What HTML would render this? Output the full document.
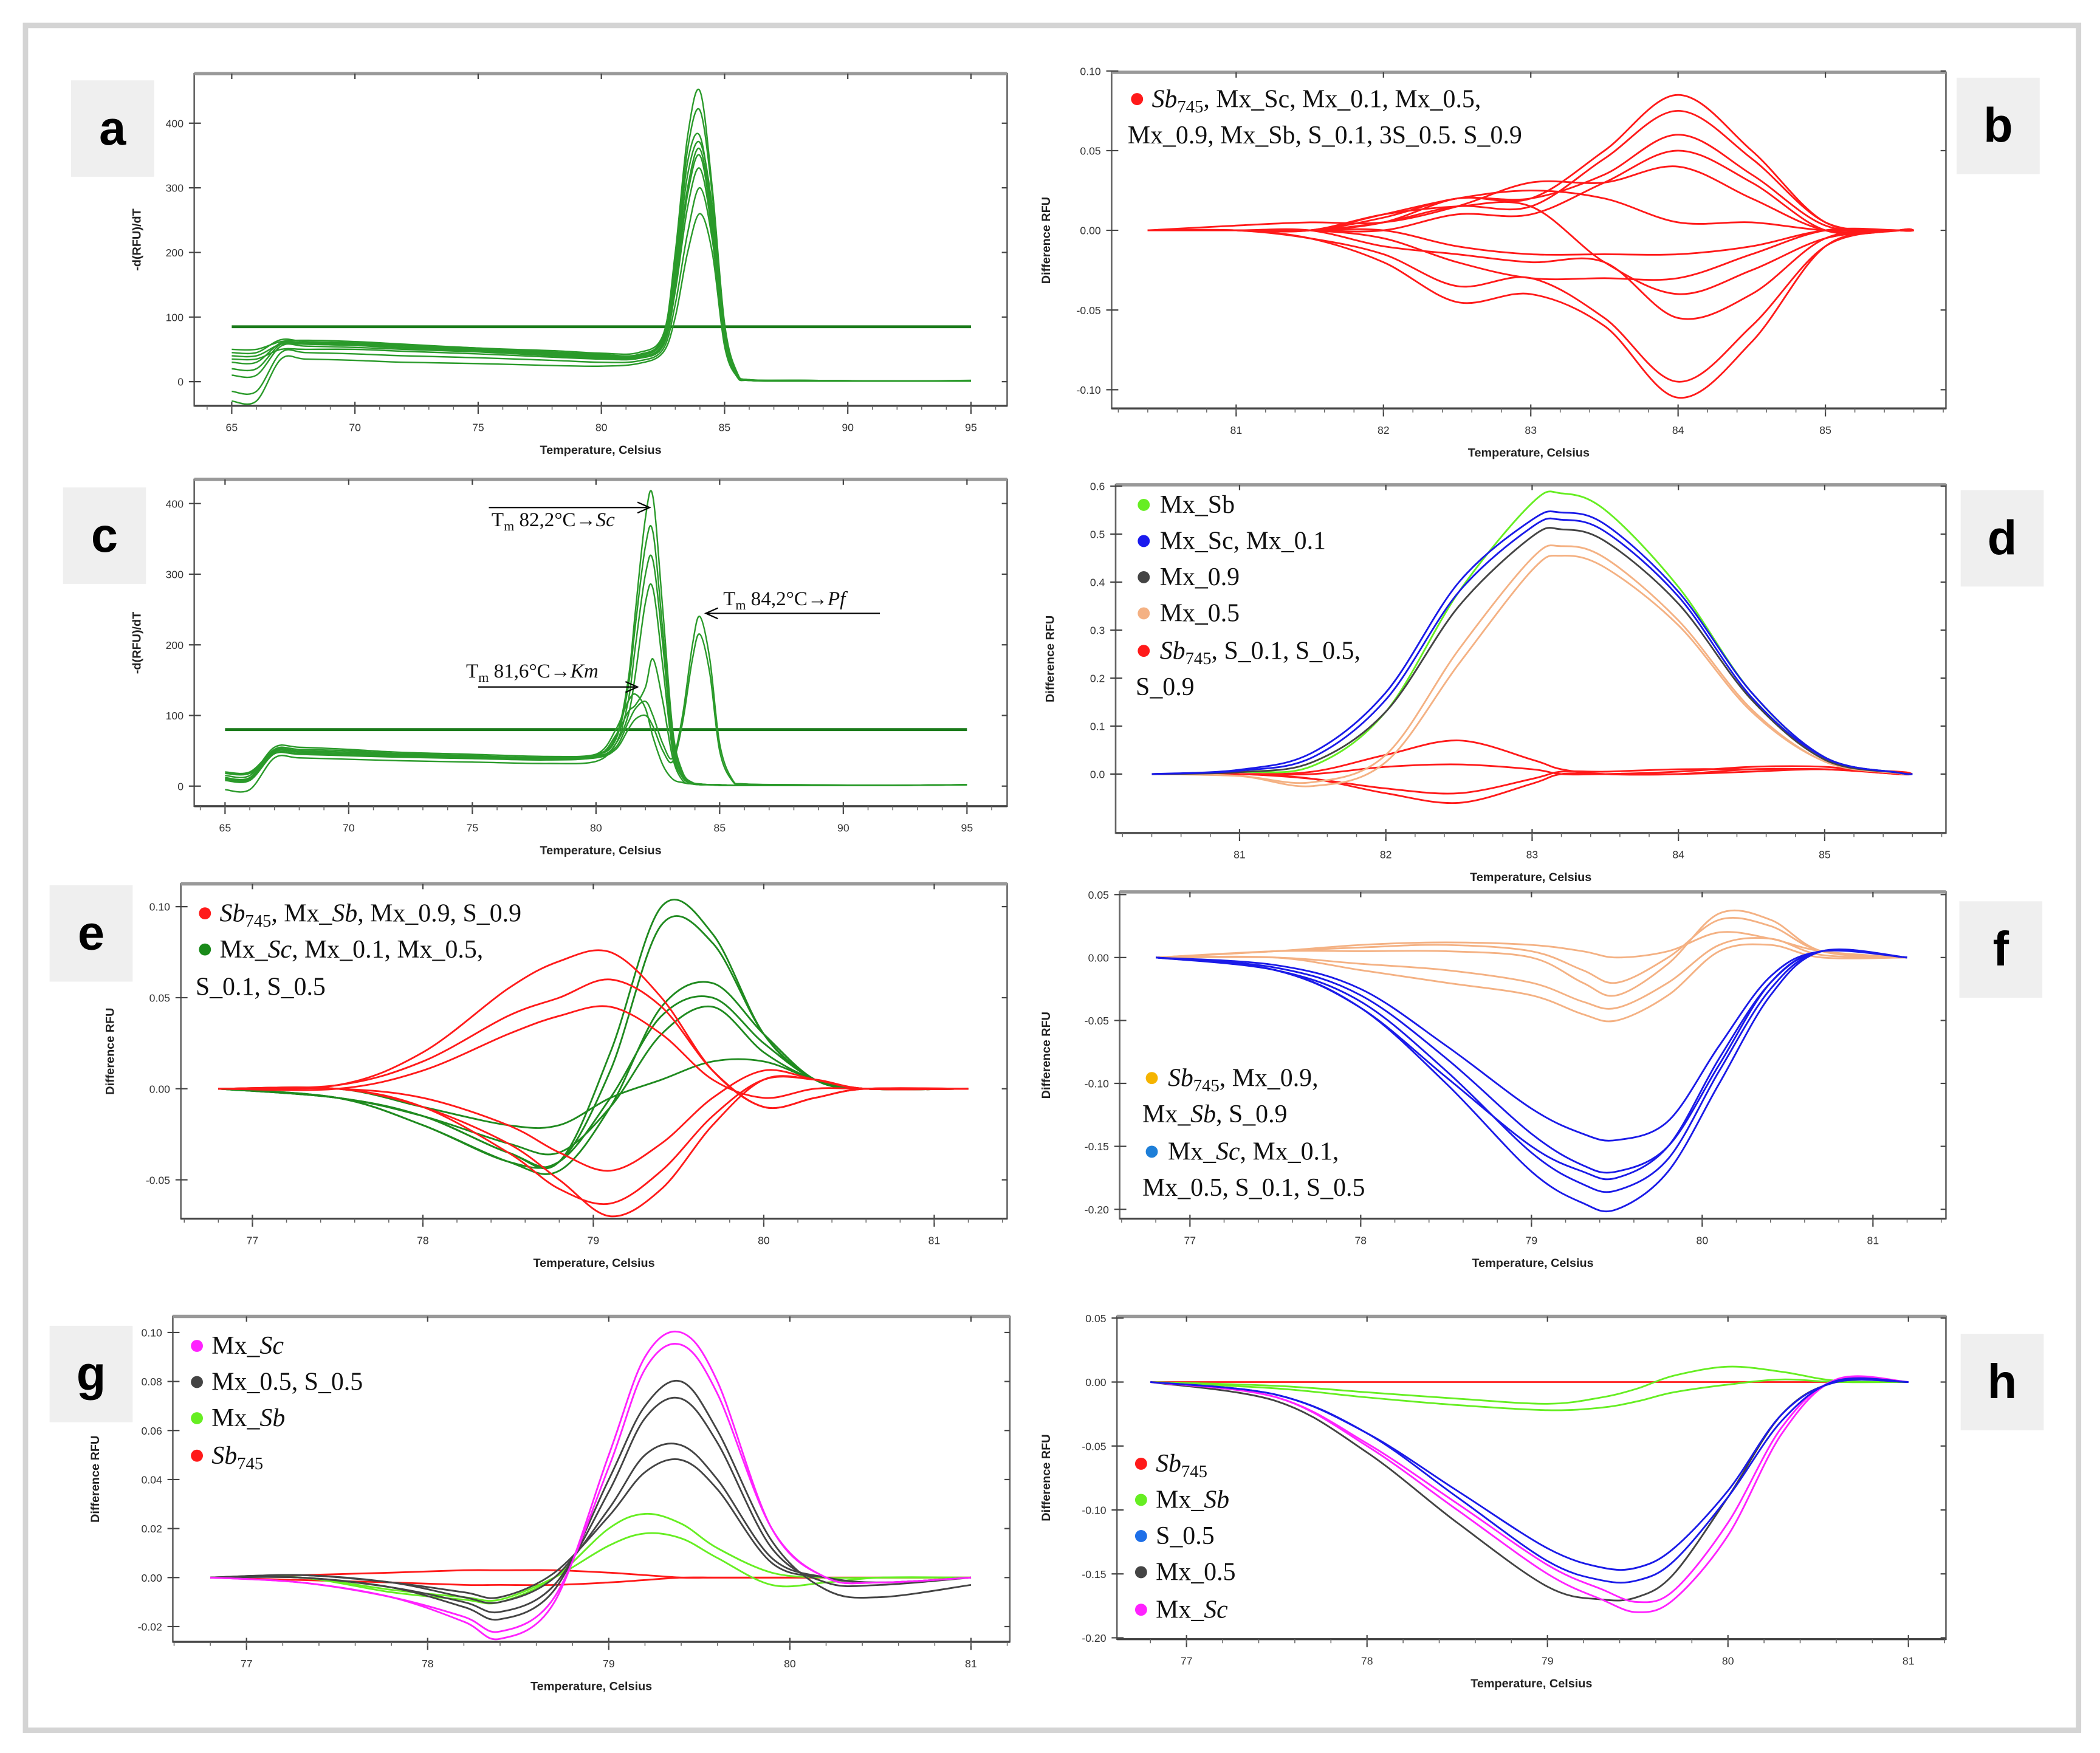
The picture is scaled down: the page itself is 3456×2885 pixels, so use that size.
<!DOCTYPE html>
<html><head><meta charset="utf-8"><style>
html,body{margin:0;padding:0;background:#fff}
svg{display:block}
text{font-family:"Liberation Sans",sans-serif}
text.lg{font-family:"Liberation Serif",serif;font-size:19px;fill:#111}
text.an{font-family:"Liberation Serif",serif;font-size:15px;fill:#111}
.tk{font-size:8px;fill:#333}
.tt{font-size:9px;font-weight:bold;fill:#222}
.lab{font-size:36px;font-weight:bold;fill:#000}
</style></head><body>
<svg id="fig" width="3456" height="2885" viewBox="0 0 1568 1309" xmlns="http://www.w3.org/2000/svg">
<rect x="0" y="0" width="1568" height="1309" fill="#fff"/>
<rect x="19" y="19" width="1533" height="1273" fill="none" stroke="#d4d4d4" stroke-width="4"/>
<g id="plots"></g>
<g id="legends">
 <g>
  <circle cx="849" cy="74" r="4.5" fill="#ff1a1a"/>
  <text class="lg" x="860" y="80"><tspan font-style="italic">Sb</tspan><tspan font-size="13" dy="4">745</tspan><tspan dy="-4">, Mx_Sc, Mx_0.1, Mx_0.5,</tspan></text>
  <text class="lg" x="842" y="107">Mx_0.9, Mx_Sb, S_0.1, 3S_0.5. S_0.9</text>
 </g>
 <g>
  <circle cx="854" cy="377" r="4.5" fill="#66ee22"/><text class="lg" x="866" y="383">Mx_Sb</text>
  <circle cx="854" cy="404" r="4.5" fill="#1a1aee"/><text class="lg" x="866" y="410">Mx_Sc, Mx_0.1</text>
  <circle cx="854" cy="431" r="4.5" fill="#444"/><text class="lg" x="866" y="437">Mx_0.9</text>
  <circle cx="854" cy="458" r="4.5" fill="#f4b183"/><text class="lg" x="866" y="464">Mx_0.5</text>
  <circle cx="854" cy="486" r="4.5" fill="#ff1a1a"/><text class="lg" x="866" y="492"><tspan font-style="italic">Sb</tspan><tspan font-size="13" dy="4">745</tspan><tspan dy="-4">, S_0.1, S_0.5,</tspan></text>
  <text class="lg" x="848" y="519">S_0.9</text>
 </g>
 <g>
  <circle cx="153" cy="682" r="4.5" fill="#ff1a1a"/><text class="lg" x="164" y="688"><tspan font-style="italic">Sb</tspan><tspan font-size="13" dy="4">745</tspan><tspan dy="-4">, Mx_</tspan><tspan font-style="italic">Sb</tspan>, Mx_0.9, S_0.9</text>
  <circle cx="153" cy="709" r="4.5" fill="#1a8a1a"/><text class="lg" x="164" y="715">Mx_<tspan font-style="italic">Sc</tspan>, Mx_0.1, Mx_0.5,</text>
  <text class="lg" x="146" y="743">S_0.1, S_0.5</text>
 </g>
 <g>
  <circle cx="860" cy="805" r="4.5" fill="#f5b400"/><text class="lg" x="872" y="811"><tspan font-style="italic">Sb</tspan><tspan font-size="13" dy="4">745</tspan><tspan dy="-4">, Mx_0.9,</tspan></text>
  <text class="lg" x="853" y="838">Mx_<tspan font-style="italic">Sb</tspan>, S_0.9</text>
  <circle cx="860" cy="860" r="4.5" fill="#1e7fd8"/><text class="lg" x="872" y="866">Mx_<tspan font-style="italic">Sc</tspan>, Mx_0.1,</text>
  <text class="lg" x="853" y="893">Mx_0.5, S_0.1, S_0.5</text>
 </g>
 <g>
  <circle cx="147" cy="1005" r="4.5" fill="#ff22ff"/><text class="lg" x="158" y="1011">Mx_<tspan font-style="italic">Sc</tspan></text>
  <circle cx="147" cy="1032" r="4.5" fill="#444"/><text class="lg" x="158" y="1038">Mx_0.5, S_0.5</text>
  <circle cx="147" cy="1059" r="4.5" fill="#66ee22"/><text class="lg" x="158" y="1065">Mx_<tspan font-style="italic">Sb</tspan></text>
  <circle cx="147" cy="1087" r="4.5" fill="#ff1a1a"/><text class="lg" x="158" y="1093"><tspan font-style="italic">Sb</tspan><tspan font-size="13" dy="4">745</tspan></text>
 </g>
 <g>
  <circle cx="852" cy="1093" r="4.5" fill="#ff1a1a"/><text class="lg" x="863" y="1099"><tspan font-style="italic">Sb</tspan><tspan font-size="13" dy="4">745</tspan></text>
  <circle cx="852" cy="1120" r="4.5" fill="#66ee22"/><text class="lg" x="863" y="1126">Mx_<tspan font-style="italic">Sb</tspan></text>
  <circle cx="852" cy="1147" r="4.5" fill="#1e6fe8"/><text class="lg" x="863" y="1153">S_0.5</text>
  <circle cx="852" cy="1174" r="4.5" fill="#444"/><text class="lg" x="863" y="1180">Mx_0.5</text>
  <circle cx="852" cy="1202" r="4.5" fill="#ff22ff"/><text class="lg" x="863" y="1208">Mx_<tspan font-style="italic">Sc</tspan></text>
 </g>
 <g>
  <text class="an" x="367" y="393">T<tspan font-size="10" dy="3">m</tspan><tspan dy="-3"> 82,2°C→</tspan><tspan font-style="italic">Sc</tspan></text>
  <line x1="365" y1="379" x2="483" y2="379" stroke="#000" stroke-width="1"/><path d="M476,375 L485,379 L476,383" fill="none" stroke="#000"/>
  <text class="an" x="540" y="452">T<tspan font-size="10" dy="3">m</tspan><tspan dy="-3"> 84,2°C→</tspan><tspan font-style="italic">Pf</tspan></text>
  <line x1="528" y1="458" x2="657" y2="458" stroke="#000" stroke-width="1"/><path d="M536,454 L527,458 L536,462" fill="none" stroke="#000"/>
  <text class="an" x="348" y="506">T<tspan font-size="10" dy="3">m</tspan><tspan dy="-3"> 81,6°C→</tspan><tspan font-style="italic">Km</tspan></text>
  <line x1="357" y1="513" x2="474" y2="513" stroke="#000" stroke-width="1"/><path d="M467,509 L476,513 L467,517" fill="none" stroke="#000"/>
 </g>
</g>
</svg>
<script>
// ---------- DATA ----------
const aTemps = [65,66,67,68,70,72,75,78,80,81.5,82.5,83,83.5,84,84.5,85,85.5,86,88,92,95];
const aSeries = [
 [45,45,65,62,60,57,52,46,42,42,70,200,380,450,300,90,15,3,2,1,2],
 [30,30,60,60,58,55,50,44,40,40,65,180,340,380,260,80,12,3,2,1,1],
 [20,20,58,58,56,52,48,42,38,38,60,160,300,360,250,70,10,2,2,1,1],
 [10,10,55,55,53,50,46,40,36,36,55,140,270,330,230,60,10,2,1,1,1],
 [-15,-15,45,45,43,40,37,33,30,32,50,120,230,300,220,60,8,2,1,1,1],
 [-30,-30,35,35,33,30,28,25,24,28,45,100,200,260,200,55,8,2,1,1,1],
 [50,50,62,64,62,58,52,48,44,45,72,190,360,420,290,85,14,3,2,1,1],
 [35,35,50,50,50,47,43,38,35,36,58,150,290,350,240,70,10,2,1,1,1],
 [40,40,58,58,56,53,49,44,40,41,66,170,320,370,270,78,11,3,2,1,1]
];
const aThreshold = [85];
const cTemps = [65,66,67,68,70,72,75,78,80,80.8,81.3,81.6,82,82.3,82.7,83.1,83.5,83.9,84.2,84.6,85,85.5,86,88,92,95];
const cSeries = [
 [15,15,55,55,52,48,45,42,45,70,150,250,380,410,250,80,20,5,3,2,2,1,1,1,1,2],
 [12,12,52,52,50,46,43,40,44,66,140,230,340,360,220,70,18,5,3,2,2,1,1,1,1,2],
 [10,10,48,48,46,43,40,38,42,60,120,200,300,320,200,60,15,5,3,2,2,1,1,1,1,2],
 [10,10,50,50,48,45,42,40,42,55,90,110,120,100,60,40,100,200,240,180,60,10,3,2,1,2],
 [8,8,46,46,44,42,40,38,40,52,80,95,100,85,50,35,90,180,215,160,50,8,3,2,1,2],
 [20,20,50,48,46,44,42,40,45,80,120,130,110,70,30,10,5,3,2,2,1,1,1,1,1,2],
 [18,18,46,45,43,41,39,37,42,72,105,115,140,180,120,40,8,3,2,2,1,1,1,1,1,2],
 [-5,-5,40,40,38,36,34,32,35,60,100,160,260,280,170,50,12,4,2,2,1,1,1,1,1,2]
];
const cThreshold = [80];
const bTemps = [80.4,81,81.5,82,82.5,83,83.5,84,84.5,85,85.5,85.6];
const bSeries = [
 [0,0,0,0.005,0.02,0.02,0.05,0.085,0.05,0.005,0,0],
 [0,0,0,0.005,0.015,0.015,0.045,0.075,0.045,0.005,0,0],
 [0,0,0,0,0.01,0.01,0.03,0.05,0.03,0,0,0],
 [0,0.003,0.005,0.005,0.015,0.03,0.03,0.04,0.02,0,0,0],
 [0,0,0,-0.005,-0.02,-0.03,-0.03,-0.03,-0.015,0,0,0],
 [0,0,-0.005,-0.02,-0.045,-0.04,-0.06,-0.105,-0.07,-0.01,0,0],
 [0,0,-0.005,-0.015,-0.035,-0.03,-0.055,-0.095,-0.06,-0.01,0,0],
 [0,0,0,0.01,0.015,0.015,-0.02,-0.04,-0.025,-0.005,0,0],
 [0,0,0,-0.01,-0.015,-0.02,-0.02,-0.055,-0.04,-0.005,0,0],
 [0,0,0,0.01,0.02,0.025,0.02,0.005,0.005,0,0,0],
 [0,0,0,0,-0.01,-0.015,-0.015,-0.015,-0.01,0,0,0],
 [0,0,0,0.008,0.02,0.02,0.035,0.06,0.035,0.003,0,0]
];
const dTemps = [80.4,81,81.5,82,82.5,83,83.2,83.5,84,84.5,85,85.5,85.6];
const dSeriesGreen = [[0,0.004,0.017,0.13,0.38,0.565,0.585,0.55,0.39,0.17,0.035,0.003,0]];
const dSeriesBlue = [[0,0.009,0.045,0.17,0.4,0.53,0.545,0.52,0.38,0.17,0.035,0.003,0],[0,0.007,0.035,0.155,0.38,0.515,0.53,0.505,0.37,0.16,0.034,0.003,0]];
const dSeriesBlack = [[0,0.004,0.025,0.13,0.35,0.495,0.51,0.485,0.355,0.155,0.03,0.003,0]];
const dSeriesOrange = [[0,-0.004,-0.017,0.04,0.26,0.45,0.475,0.45,0.32,0.135,0.026,0.002,0],[0,-0.004,-0.025,0.025,0.23,0.425,0.455,0.43,0.31,0.13,0.026,0.002,0]];
const dSeriesRed = [[0,0,0.005,0.04,0.07,0.03,0.01,0,0,0.01,0.01,0.005,0],[0,0,-0.01,-0.04,-0.06,-0.02,0,0,0,0.005,0.01,0,0],[0,0,-0.01,-0.03,-0.04,-0.01,0.005,0.005,0.01,0.01,0.01,0,0],[0,0,0,0.015,0.02,0.01,0,0,0.005,0.015,0.015,0,0]];
const eTemps = [76.8,77.5,78,78.5,78.8,79.1,79.4,79.7,80,80.3,80.6,81.2];
const eSeriesRed = [
 [0,0.002,0.02,0.055,0.07,0.075,0.05,0.01,-0.01,-0.005,0,0],
 [0,0.002,0.015,0.04,0.05,0.06,0.045,0.01,-0.01,-0.005,0,0],
 [0,0,0.01,0.03,0.04,0.045,0.03,0.005,-0.005,0,0,0],
 [0,0,-0.01,-0.03,-0.05,-0.07,-0.055,-0.02,0.005,0.005,0,0],
 [0,0,-0.01,-0.035,-0.055,-0.063,-0.045,-0.015,0.005,0.005,0,0],
 [0,0,-0.005,-0.02,-0.035,-0.045,-0.03,-0.005,0.01,0.005,0,0]
];
const eSeriesGreen = [
 [0,-0.005,-0.015,-0.035,-0.04,0.02,0.1,0.085,0.03,0.005,0,0],
 [0,-0.005,-0.015,-0.035,-0.04,0.01,0.09,0.08,0.03,0.005,0,0],
 [0,-0.005,-0.02,-0.04,-0.045,-0.01,0.045,0.058,0.03,0.005,0,0],
 [0,-0.005,-0.02,-0.04,-0.04,-0.005,0.04,0.05,0.025,0.005,0,0],
 [0,-0.005,-0.015,-0.03,-0.035,-0.01,0.03,0.045,0.02,0.005,0,0],
 [0,0,-0.01,-0.02,-0.02,-0.005,0.005,0.015,0.015,0.005,0,0]
];
const fTemps = [76.8,77.5,78,78.5,79,79.3,79.5,79.8,80.1,80.4,80.7,81.2];
const fSeriesBlue = [
 [0,-0.01,-0.04,-0.1,-0.17,-0.195,-0.2,-0.17,-0.1,-0.03,0.005,0],
 [0,-0.01,-0.035,-0.09,-0.155,-0.18,-0.185,-0.16,-0.09,-0.025,0.005,0],
 [0,-0.008,-0.03,-0.08,-0.14,-0.165,-0.17,-0.15,-0.085,-0.02,0.005,0],
 [0,-0.006,-0.025,-0.07,-0.12,-0.14,-0.145,-0.13,-0.07,-0.015,0.005,0],
 [0,-0.01,-0.04,-0.095,-0.15,-0.17,-0.175,-0.15,-0.08,-0.02,0.005,0]
];
const fSeriesOrange = [
 [0,0.005,0.005,0.005,0,-0.02,-0.03,-0.005,0.035,0.03,0.005,0],
 [0,0.005,0.008,0.01,0.005,-0.01,-0.02,0,0.03,0.025,0.005,0],
 [0,0,-0.005,-0.01,-0.02,-0.035,-0.04,-0.02,0.01,0.015,0.002,0],
 [0,0,-0.01,-0.02,-0.03,-0.045,-0.05,-0.03,0.005,0.01,0,0],
 [0,0.005,0.01,0.012,0.01,0.005,0,0.005,0.02,0.015,0.005,0]
];
const gTemps = [76.8,77.3,77.8,78.2,78.4,78.7,79,79.2,79.4,79.6,79.9,80.2,80.5,81];
const gSeriesMagenta = [[0,-0.002,-0.008,-0.018,-0.025,-0.01,0.05,0.09,0.1,0.08,0.02,0,-0.002,0],[0,-0.002,-0.008,-0.016,-0.022,-0.008,0.045,0.085,0.095,0.075,0.02,0,-0.002,0]];
const gSeriesBlack = [[0,0,-0.004,-0.012,-0.017,-0.005,0.04,0.07,0.08,0.06,0.015,-0.005,-0.008,-0.003],[0,0,-0.004,-0.01,-0.014,-0.003,0.035,0.065,0.073,0.055,0.012,-0.002,-0.003,0],[0,0.001,-0.002,-0.008,-0.01,0,0.028,0.05,0.054,0.04,0.008,0,-0.002,0],[0,0.001,-0.002,-0.006,-0.008,0.002,0.025,0.043,0.048,0.036,0.006,0,-0.002,0]];
const gSeriesGreen = [[0,0,-0.006,-0.009,-0.01,0,0.02,0.026,0.022,0.012,0.002,0,0,0],[0,0,-0.005,-0.008,-0.009,0,0.013,0.018,0.016,0.008,-0.003,-0.002,0,0]];
const gSeriesRed = [[0,0.001,0.002,0.003,0.003,0.003,0.002,0.001,0,0,0,0,0,0],[0,-0.001,-0.002,-0.003,-0.003,-0.003,-0.002,-0.001,0,0,0,0,0,0]];
const hTemps = [76.8,77.5,78,78.5,79,79.3,79.5,79.7,80,80.3,80.6,81];
const hSeriesRed = [[0,0,0,0,0,0,0,0,0,0,0,0]];
const hSeriesGreen = [[0,-0.003,-0.008,-0.013,-0.017,-0.012,-0.005,0.005,0.012,0.008,0.001,0],[0,-0.005,-0.012,-0.018,-0.022,-0.02,-0.015,-0.008,-0.002,0.002,0,0]];
const hSeriesBlue = [[0,-0.01,-0.04,-0.09,-0.14,-0.155,-0.155,-0.14,-0.09,-0.03,0.001,0],[0,-0.01,-0.04,-0.085,-0.13,-0.145,-0.145,-0.13,-0.085,-0.025,0,0]];
const hSeriesBlack = [[0,-0.015,-0.055,-0.11,-0.16,-0.17,-0.168,-0.15,-0.09,-0.025,0,0]];
const hSeriesMagenta = [[0,-0.012,-0.05,-0.1,-0.15,-0.17,-0.18,-0.17,-0.12,-0.04,0.002,0],[0,-0.012,-0.048,-0.095,-0.143,-0.162,-0.172,-0.163,-0.11,-0.035,0.002,0]];
const ticksTempWide = [65,70,75,80,85,90,95];
const ticksTempB = [81,82,83,84,85];
const ticksTempE = [77,78,79,80,81];
const ticksA = [0,100,200,300,400];
const ticksB = [-0.1,-0.05,0,0.05,0.1];
const ticksD = [0,0.1,0.2,0.3,0.4,0.5,0.6];
const ticksE = [-0.05,0,0.05,0.1];
const ticksF = [-0.2,-0.15,-0.1,-0.05,0,0.05];
const ticksG = [-0.02,0,0.02,0.04,0.06,0.08,0.1];
const ticksH = [-0.2,-0.15,-0.1,-0.05,0,0.05];

// ---------- DRAW ----------
const NS = 'http://www.w3.org/2000/svg';
const root = document.getElementById('plots');
function mk(tag, attrs, parent){ const e=document.createElementNS(NS,tag); for(const k in attrs) e.setAttribute(k,attrs[k]); parent.appendChild(e); return e; }
function lin(d0,d1,r0,r1){ return v => r0 + (v-d0)*(r1-r0)/(d1-d0); }
function smooth(pts){
  let d = 'M'+pts[0][0].toFixed(2)+','+pts[0][1].toFixed(2);
  for(let i=0;i<pts.length-1;i++){
    const p0=pts[Math.max(0,i-1)], p1=pts[i], p2=pts[i+1], p3=pts[Math.min(pts.length-1,i+2)];
    const c1=[p1[0]+(p2[0]-p0[0])/6, p1[1]+(p2[1]-p0[1])/6];
    const c2=[p2[0]-(p3[0]-p1[0])/6, p2[1]-(p3[1]-p1[1])/6];
    d+=' C'+c1[0].toFixed(2)+','+c1[1].toFixed(2)+' '+c2[0].toFixed(2)+','+c2[1].toFixed(2)+' '+p2[0].toFixed(2)+','+p2[1].toFixed(2);
  }
  return d;
}
function fmt(v, dec){ return v.toFixed(dec); }
function panel(cfg){
  const g = mk('g',{},root);
  
  
  const [L,T,R,B] = cfg.box;
  const xs = lin(cfg.xd[0],cfg.xd[1],cfg.xr[0],cfg.xr[1]);
  const ys = lin(cfg.yd[0],cfg.yd[1],cfg.yr[0],cfg.yr[1]);
  const clipId='clip'+cfg.id;
  const cp = mk('clipPath',{id:clipId},g); mk('rect',{x:L,y:T,width:R-L,height:B-T},cp);
  const frame = mk('rect',{x:L,y:T,width:R-L,height:B-T,fill:'#fff',stroke:'#666','stroke-width':1.2},g);
  
  
  mk('line',{x1:L,y1:T,x2:R,y2:T,stroke:'#999','stroke-width':2.5},g);
  mk('line',{x1:L,y1:B,x2:R,y2:B,stroke:'#444','stroke-width':1.5},g);
  const xg = mk('g',{},g);
  
  
  cfg.xticks.forEach(t=>{
    const x=xs(t);
    mk('line',{x1:x,y1:B-3,x2:x,y2:B+6,stroke:'#444','stroke-width':1},xg);
    mk('line',{x1:x,y1:T,x2:x,y2:T+4,stroke:'#444','stroke-width':1},xg);
    const tx = mk('text',{x:x,y:B+19,'text-anchor':'middle',class:'tk'},xg);
    tx.textContent = String(t);
    
    
  });
  const minor = (cfg.xticks[1]-cfg.xticks[0])/5;
  for(let v=cfg.xticks[0]-minor*5; v<=cfg.xticks[cfg.xticks.length-1]+minor*5; v+=minor){
    const x=xs(v); if(x<L||x>R) continue;
    mk('line',{x1:x,y1:B,x2:x,y2:B+3,stroke:'#666','stroke-width':0.7},xg);
  }
  const xt = mk('text',{x:(L+R)/2,y:B+36,'text-anchor':'middle',class:'tt'},g);
  xt.textContent='Temperature, Celsius';
  
  
  const yg = mk('g',{},g);
  
  
  cfg.yticks.forEach(t=>{
    const y=ys(t);
    mk('line',{x1:L-4,y1:y,x2:L+5,y2:y,stroke:'#444','stroke-width':1},yg);
    mk('line',{x1:R-4,y1:y,x2:R,y2:y,stroke:'#444','stroke-width':1},yg);
    const ty = mk('text',{x:L-8,y:y+3,'text-anchor':'end',class:'tk'},yg);
    ty.textContent = fmt(t,cfg.dec);
    
    
  });
  const ycx = L-cfg.ytOff, ycy=(T+B)/2;
  const yt = mk('text',{x:ycx,y:ycy,'text-anchor':'middle',class:'tt',transform:'rotate(-90 '+ycx+' '+ycy+')','font-size':8},g);
  yt.textContent=cfg.ytitle;
  
  
  const sg = mk('g',{'clip-path':'url(#'+clipId+')'},g);
  (cfg.hlines||[]).forEach(h=>{
    const hl = mk('line',{x1:xs(cfg.xd[0]),y1:ys(h),x2:xs(cfg.xd[1]),y2:ys(h),stroke:cfg.hcolor,'stroke-width':2.2},sg);
    
    
  });
  cfg.groups.forEach(grp=>{
    grp.series.forEach((s,i)=>{
      const pts = s.map((v,k)=>[xs(cfg.temps[k]), ys(v)]);
      const p = mk('path',{d:smooth(pts),fill:'none',stroke:grp.color,'stroke-width':grp.w||1.3,'stroke-linejoin':'round'},sg);
      
      
    });
  });
  const lb = mk('g',{},g);
  
  
  mk('rect',{x:cfg.lab[0],y:cfg.lab[1],width:62,height:72,fill:'#efefef'},lb);
  const lt = mk('text',{x:cfg.lab[0]+31,y:cfg.lab[1]+48,'text-anchor':'middle',class:'lab'},lb);
  lt.textContent=cfg.id;
}
const GR='#1f8a1f', RD='#ff1a1a', BL='#1a1ae8', BK='#444444', OR='#f4b183', LM='#66ee22', MG='#ff22ff';
panel({id:'a',box:[145,55,752,303],xd:[65,95],xr:[173,725],yd:[0,400],yr:[285,92],xticks:ticksTempWide,yticks:ticksA,dec:0,ytitle:'-d(RFU)/dT',ytOff:40,temps:aTemps,hlines:aThreshold,hcolor:'#1a7a1a',groups:[{name:'green',color:'#2a9a2a',series:aSeries,w:1.1}],lab:[53,60]});
panel({id:'b',box:[830,54,1453,305],xd:[80.4,85.6],xr:[857,1429],yd:[0,0.1],yr:[172,53],xticks:ticksTempB,yticks:ticksB,dec:2,ytitle:'Difference RFU',ytOff:46,temps:bTemps,groups:[{name:'red',color:RD,series:bSeries}],lab:[1461,58]});
panel({id:'c',box:[145,358,752,602],xd:[65,95],xr:[168,722],yd:[0,400],yr:[587,376],xticks:ticksTempWide,yticks:ticksA,dec:0,ytitle:'-d(RFU)/dT',ytOff:40,temps:cTemps,hlines:cThreshold,hcolor:'#1a7a1a',groups:[{name:'green',color:'#2a9a2a',series:cSeries,w:1.1}],lab:[47,364]});
panel({id:'d',box:[833,362,1453,622],xd:[80.4,85.6],xr:[860,1428],yd:[0,0.6],yr:[578,363],xticks:ticksTempB,yticks:ticksD,dec:1,ytitle:'Difference RFU',ytOff:46,temps:dTemps,groups:[{name:'red',color:RD,series:dSeriesRed},{name:'orange',color:OR,series:dSeriesOrange},{name:'green',color:LM,series:dSeriesGreen},{name:'black',color:BK,series:dSeriesBlack},{name:'blue',color:BL,series:dSeriesBlue}],lab:[1464,366]});
panel({id:'e',box:[135,660,752,910],xd:[76.8,81.2],xr:[163,723],yd:[0,0.1],yr:[813,677],xticks:ticksTempE,yticks:ticksE,dec:2,ytitle:'Difference RFU',ytOff:50,temps:eTemps,groups:[{name:'green',color:GR,series:eSeriesGreen},{name:'red',color:RD,series:eSeriesRed}],lab:[37,661]});
panel({id:'f',box:[836,666,1453,910],xd:[76.8,81.2],xr:[863,1424],yd:[0,0.05],yr:[715,668],xticks:ticksTempE,yticks:ticksF,dec:2,ytitle:'Difference RFU',ytOff:52,temps:fTemps,groups:[{name:'orange',color:OR,series:fSeriesOrange},{name:'blue',color:BL,series:fSeriesBlue}],lab:[1463,673]});
panel({id:'g',box:[129,983,754,1226],xd:[76.8,81],xr:[157,725],yd:[0,0.1],yr:[1178,995],xticks:ticksTempE,yticks:ticksG,dec:2,ytitle:'Difference RFU',ytOff:55,temps:gTemps,groups:[{name:'red',color:RD,series:gSeriesRed},{name:'green',color:LM,series:gSeriesGreen},{name:'black',color:BK,series:gSeriesBlack},{name:'magenta',color:MG,series:gSeriesMagenta}],lab:[37,990]});
panel({id:'h',box:[834,983,1453,1224],xd:[76.8,81],xr:[859,1425],yd:[0,-0.2],yr:[1032,1223],xticks:ticksTempE,yticks:ticksH,dec:2,ytitle:'Difference RFU',ytOff:50,temps:hTemps,groups:[{name:'red',color:RD,series:hSeriesRed},{name:'green',color:LM,series:hSeriesGreen},{name:'black',color:BK,series:hSeriesBlack},{name:'magenta',color:MG,series:hSeriesMagenta},{name:'blue',color:BL,series:hSeriesBlue}],lab:[1464,996]});
const svgEl=document.getElementById('fig'); svgEl.appendChild(document.getElementById('legends'));
</script>
</body></html>
